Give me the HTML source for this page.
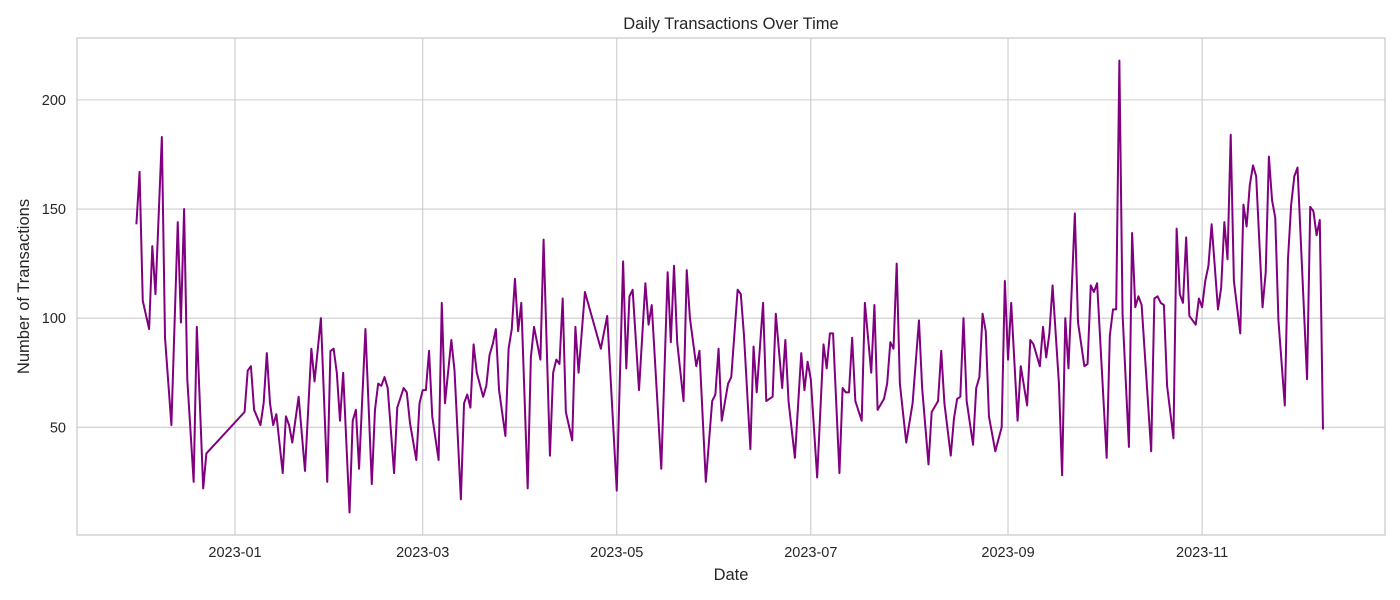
<!DOCTYPE html>
<html><head><meta charset="utf-8"><style>
html,body{margin:0;padding:0;background:#fff;}
svg{display:block;font-family:"Liberation Sans","DejaVu Sans",sans-serif;}
</style></head><body>
<svg id="chart" width="1400" height="600"></svg>
<script>
const dayOffsets=[-31,-30,-29,-27,-26,-25,-23,-22,-20,-18,-17,-16,-15,-13,-12,-10,-9,3,4,5,6,8,9,10,11,12,13,15,16,17,18,20,22,24,25,27,29,30,31,32,33,34,36,37,38,39,41,43,44,45,46,47,48,50,51,53,54,55,57,58,59,60,61,62,64,65,66,68,69,71,72,73,74,75,76,78,79,80,81,82,83,85,86,87,88,89,90,92,93,94,96,97,99,100,101,102,103,104,106,107,108,110,115,117,120,122,123,124,125,127,129,130,131,134,136,137,138,139,141,142,143,145,146,148,150,151,152,153,155,156,158,159,160,162,163,164,166,167,169,170,172,173,174,176,178,179,180,181,183,185,186,187,188,190,191,192,193,194,195,197,198,200,201,202,204,205,206,207,208,209,211,213,215,216,218,219,221,222,223,225,226,227,228,229,230,232,233,234,235,236,237,239,241,242,243,244,246,247,249,250,251,253,254,255,256,257,259,260,261,262,264,265,267,268,269,270,271,274,275,276,277,278,279,281,282,283,284,285,288,289,290,291,292,293,295,296,297,298,299,300,302,303,304,305,306,307,309,310,311,312,313,314,316,317,318,319,320,321,323,324,325,326,327,328,330,331,332,333,334,337,338,339,340,341,342];
const transactions=[143,167,108,95,133,111,183,91,51,144,98,150,72,25,96,22,38,57,76,78,58,51,61,84,61,51,56,29,55,51,43,64,30,86,71,100,25,85,86,75,53,75,11,53,58,31,95,24,58,70,69,73,68,29,59,68,66,52,35,61,67,67,85,55,35,107,61,90,76,17,61,65,59,88,75,64,69,83,88,95,67,46,86,95,118,94,107,22,82,96,81,136,37,75,81,79,109,57,44,96,75,112,86,101,21,126,77,110,113,67,116,97,106,31,121,89,124,89,62,122,100,78,85,25,62,65,86,53,70,73,113,111,92,40,87,66,107,62,64,102,68,90,62,36,84,67,80,72,27,88,77,93,93,29,68,66,66,91,62,53,107,75,106,58,63,70,89,86,125,70,43,61,99,68,33,57,62,85,61,37,54,63,64,100,62,42,68,73,102,94,55,39,50,117,81,107,53,78,60,90,88,78,96,82,93,115,70,28,100,77,148,98,78,79,115,112,116,36,92,104,104,218,102,41,139,105,110,106,39,109,110,107,106,69,45,141,111,107,137,101,97,109,105,117,124,143,104,114,144,127,184,117,93,152,142,161,170,165,105,121,174,154,146,99,60,127,152,165,169,72,151,149,138,145,49];
const xTickDays=[0,59,120,181,243,304];
const xTickLabels=["2023-01","2023-03","2023-05","2023-07","2023-09","2023-11"];
const yTickValues=[50,100,150,200];

const NS="http://www.w3.org/2000/svg";
const svg=document.getElementById('chart');
const L=77,R=1385,T=38,B=535;
const xMin=-49.67,xMax=361.5,yMin=0.65,yMax=228.35;
function xs(d){return L+(d-xMin)/(xMax-xMin)*(R-L);}
function ys(v){return B-(v-yMin)/(yMax-yMin)*(B-T);}
function mk(tag,attrs,parent){const e=document.createElementNS(NS,tag);for(const k in attrs)e.setAttribute(k,attrs[k]);(parent||svg).appendChild(e);return e;}

const grid=mk('g',{});


xTickDays.forEach((d,i)=>{
  const l=mk('line',{x1:xs(d),x2:xs(d),y1:T,y2:B,stroke:'#cccccc','stroke-width':1.1},grid);
  
  
  const t=mk('text',{x:xs(d),y:557,'text-anchor':'middle','font-size':14.5,fill:'#262626'});
  t.textContent=xTickLabels[i];
  
  
});
yTickValues.forEach(v=>{
  const l=mk('line',{x1:L,x2:R,y1:ys(v),y2:ys(v),stroke:'#cccccc','stroke-width':1.1},grid);
  
  
  const t=mk('text',{x:66,y:ys(v)+5,'text-anchor':'end','font-size':14.5,fill:'#262626'});
  t.textContent=v;
  
  
});
const frame=mk('rect',{x:L,y:T,width:R-L,height:B-T,fill:'none',stroke:'#cccccc','stroke-width':1.3});



const pts=dayOffsets.map((d,i)=>xs(d).toFixed(2)+','+ys(transactions[i]).toFixed(2)).join(' ');
const line=mk('polyline',{points:pts,fill:'none',stroke:'#800080','stroke-width':2,'stroke-linejoin':'round'});



const title=mk('text',{x:(L+R)/2,y:29,'text-anchor':'middle','font-size':16.5,fill:'#262626'});
title.textContent='Daily Transactions Over Time';


const xl=mk('text',{x:(L+R)/2,y:580,'text-anchor':'middle','font-size':16.5,fill:'#262626'});
xl.textContent='Date';


const yl=mk('text',{x:0,y:0,'text-anchor':'middle','font-size':16.5,fill:'#262626',transform:'translate(29,'+((T+B)/2)+') rotate(-90)'});
yl.textContent='Number of Transactions';


</script>
</body></html>
